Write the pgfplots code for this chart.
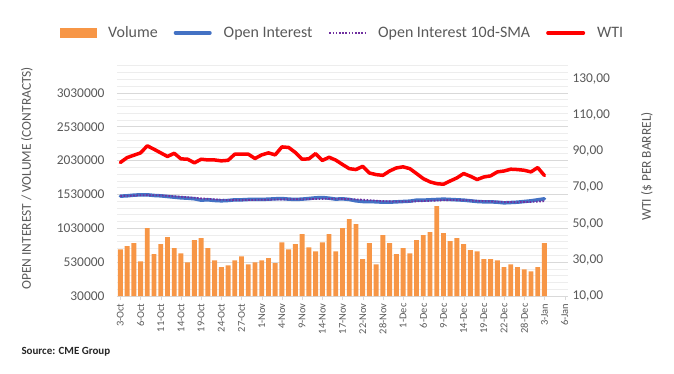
\documentclass[border=0pt]{standalone}
\usepackage{pgfplots}
\usepackage{pgfplotstable}
\pgfplotsset{compat=1.18}
\usepackage{fontspec}
\setmainfont{Carlito}
\definecolor{volorange}{HTML}{F79646}
\definecolor{oiblue}{HTML}{4472C4}
\definecolor{smapurple}{HTML}{7030A0}
\definecolor{wtired}{HTML}{FF0000}
\definecolor{gridmajor}{HTML}{D9D9D9}
\definecolor{gridminor}{HTML}{EDEDED}
\definecolor{textgray}{HTML}{595959}

\pgfplotstableread{
idx vol oi sma wti
0 720000 1505000 1508000 83.7
1 765000 1510000 1510000 86.4
2 810000 1520000 1514000 87.7
3 543000 1525000 1518000 89.0
4 1031000 1525000 1520000 92.9
5 647000 1515000 1519000 91.0
6 795000 1510000 1516000 89.0
7 898000 1500000 1510000 87.0
8 736000 1490000 1503000 88.8
9 661000 1480000 1496000 85.7
10 528000 1475000 1489000 85.5
11 854000 1466000 1481000 83.5
12 884000 1446000 1472000 85.5
13 736000 1451000 1465000 85.1
14 558000 1441000 1458000 85.1
15 455000 1436000 1452000 84.6
16 484000 1441000 1448000 84.9
17 558000 1451000 1446000 88.3
18 617000 1451000 1446000 88.3
19 499000 1456000 1448000 88.3
20 528000 1456000 1450000 85.9
21 558000 1456000 1452000 87.9
22 588000 1461000 1453000 89.0
23 514000 1466000 1455000 87.9
24 824000 1470000 1457000 92.3
25 720000 1461000 1458000 92.0
26 795000 1456000 1459000 89.2
27 943000 1461000 1460000 85.5
28 750000 1470000 1461000 85.7
29 691000 1480000 1463000 88.6
30 824000 1485000 1465000 84.8
31 943000 1475000 1466000 86.6
32 691000 1461000 1466000 85.0
33 1031000 1466000 1465000 82.6
34 1165000 1456000 1462000 80.3
35 1091000 1436000 1457000 79.8
36 573000 1426000 1452000 81.6
37 810000 1426000 1445000 77.9
38 499000 1421000 1438000 77.0
39 928000 1416000 1432000 76.6
40 810000 1416000 1428000 79.0
41 647000 1421000 1426000 80.7
42 736000 1426000 1425000 81.3
43 661000 1431000 1426000 80.3
44 854000 1446000 1428000 77.6
45 928000 1446000 1432000 74.8
46 972000 1451000 1436000 73.0
47 1357000 1456000 1440000 72.0
48 957000 1461000 1445000 71.7
49 839000 1456000 1447000 73.5
50 884000 1451000 1447000 75.2
51 795000 1446000 1445000 77.6
52 706000 1436000 1440000 76.1
53 691000 1426000 1436000 74.3
54 573000 1421000 1432000 75.7
55 573000 1421000 1428000 76.3
56 558000 1416000 1424000 78.5
57 455000 1406000 1420000 79.0
58 499000 1411000 1418000 80.0
59 455000 1416000 1416000 79.8
60 425000 1426000 1418000 79.4
61 395000 1436000 1420000 78.5
62 455000 1451000 1424000 80.9
63 810000 1466000 1430000 76.5
}\datatable

\begin{document}
\begin{tikzpicture}
\useasboundingbox (-117bp,-78bp) rectangle (557bp,296bp);
\begin{axis}[
  scale only axis, width=451bp, height=235.5bp,
  xmin=-0.5, xmax=66.5, ymin=30000, ymax=3509000,
  scaled y ticks=false,
  axis x line*=bottom, axis y line*=left,
  y axis line style={draw=none}, x axis line style={draw=gridmajor, -},
  xtick={0,3,...,66},
  xticklabels={3-Oct,6-Oct,11-Oct,14-Oct,19-Oct,24-Oct,27-Oct,1-Nov,4-Nov,9-Nov,14-Nov,17-Nov,22-Nov,28-Nov,1-Dec,6-Dec,9-Dec,14-Dec,19-Dec,22-Dec,28-Dec,3-Jan,6-Jan},
  x tick label style={rotate=90, anchor=east, font=\fontsize{10.5}{12}\selectfont, text=textgray},
  xtick style={draw=gridmajor}, major tick length=4bp, tick align=outside,
  ytick={30000,530000,1030000,1530000,2030000,2530000,3030000},
  yticklabels={30000,530000,1030000,1530000,2030000,2530000,3030000},
  minor ytick={130000,230000,...,3430000},
  ytick style={draw=none}, minor tick length=0bp,
  ymajorgrids, yminorgrids,
  major grid style={draw=gridmajor, line width=0.8bp},
  minor grid style={draw=gridminor, line width=0.8bp},
  y tick label style={font=\fontsize{13.5}{15}\selectfont, text=textgray, xshift=-5bp},
  ylabel={OPEN INTEREST / VOLUME (CONTRACTS)},
  ylabel style={at={(axis description cs:-0.1996,0.5)}, anchor=center, font=\fontsize{13.5}{15}\selectfont, text=textgray},
  /pgf/number format/assume math mode=true,
]
\addplot[ybar, bar width=4.9bp, fill=volorange, draw=none, bar shift=0pt] table[x=idx, y=vol] {\datatable};
\addplot[oiblue, line width=3.5bp, line cap=round, line join=round, no markers] table[x=idx, y=oi] {\datatable};
\addplot[smapurple, line width=1.8bp, dash pattern=on 1.6bp off 1.6bp, no markers] table[x=idx, y=sma] {\datatable};
\end{axis}
\begin{axis}[
  scale only axis, width=451bp, height=235.5bp,
  xmin=-0.5, xmax=66.5, ymin=10, ymax=140,
  axis x line=none, axis y line*=right,
  y axis line style={draw=none},
  ytick={10,30,50,70,90,110,130},
  yticklabels={{10,00},{30,00},{50,00},{70,00},{90,00},{110,00},{130,00}},
  ytick style={draw=none},
  y tick label style={font=\fontsize{13.5}{15}\selectfont, text=textgray, xshift=1bp},
  ylabel={WTI (\$ PER BARREL)},
  ylabel style={at={(axis description cs:1.175,0.55)}, anchor=center, font=\fontsize{13.5}{15}\selectfont, text=textgray},
  /pgf/number format/assume math mode=true,
  legend columns=4,
  legend style={draw=none, fill=none, at={(axis description cs:0.5,1.117)}, anchor=center,
    font=\fontsize{16}{18}\selectfont, text=textgray,
    /tikz/every odd column/.append style={column sep=10bp},
    /tikz/every even column/.append style={column sep=14bp}},
]
\addlegendimage{legend image code/.code={\fill[volorange] (0bp,-4.5bp) rectangle (36bp,4.5bp);}}
\addlegendentry{Volume}
\addlegendimage{legend image code/.code={\draw[oiblue, line width=3.5bp, line cap=round] (1.5bp,0bp) -- (36bp,0bp);}}
\addlegendentry{Open Interest}
\addlegendimage{legend image code/.code={\draw[smapurple, line width=1.6bp, dash pattern=on 1.6bp off 1.6bp] (0bp,0bp) -- (36bp,0bp);}}
\addlegendentry{Open Interest 10d-SMA}
\addplot[wtired, line width=3.5bp, line cap=round, line join=round, no markers,
  legend image code/.code={\draw[wtired, line width=3.5bp, line cap=round] (1.5bp,0bp) -- (37bp,0bp);}]
  table[x=idx, y=wti] {\datatable};
\addlegendentry{WTI}
\end{axis}
\node[anchor=west, font=\fontsize{11}{13}\selectfont\bfseries, text=black!85] at (-99bp,-56bp) {Source: CME Group};
\end{tikzpicture}
\end{document}
